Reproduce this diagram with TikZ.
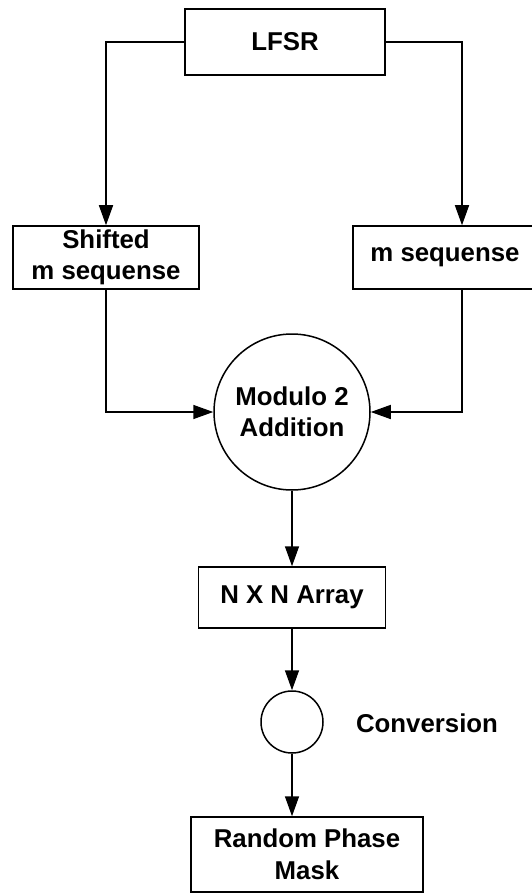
\documentclass[tikz,border=0pt]{standalone}
\usepackage{fontspec}
\setmainfont{Liberation Sans}
\usetikzlibrary{arrows.meta,calc}
\begin{document}
\begin{tikzpicture}[x=1pt,y=-1pt,
  every node/.style={font=\bfseries\fontsize{25.8}{31.5}\selectfont, align=center, inner sep=0pt},
  boxnode/.style={draw, line width=1.5pt, rectangle},
  circnode/.style={draw, line width=1.5pt, circle},
  arr/.style={line width=1.5pt, -{Triangle[length=20pt,width=14pt]}}]
\clip (0,0) rectangle (532,893);
\node[boxnode, minimum width=200pt, minimum height=66pt] (lfsr) at (285,42) {LFSR};
\node[boxnode, minimum width=186pt, minimum height=63pt] (shifted) at (106,257.5) {Shifted\\m sequense};
\node[boxnode, minimum width=184pt, minimum height=63pt] (mseq) at (445,257.5) {m sequense};
\node[circnode, minimum size=156pt] (mod) at (292,412) {Modulo 2\\Addition};
\node[boxnode, minimum width=187pt, minimum height=61pt] (nxn) at (292,597.5) {N X N Array};
\node[circnode, minimum size=62pt] (conv) at (292,722) {};
\node (convlabel) at (427,723) {Conversion};
\node[boxnode, minimum width=232pt, minimum height=75pt] (rpm) at (307,854.5) {Random Phase\\Mask};
\draw[arr] (lfsr.west) -| (shifted.north);
\draw[arr] (lfsr.east) -| ([xshift=17pt]mseq.north);
\draw[arr] (shifted.south) |- (mod.west);
\draw[arr] ([xshift=17pt]mseq.south) |- (mod.east);
\draw[arr] (mod.south) -- (mod.south |- nxn.north);
\draw[arr] (nxn.south) -- (nxn.south |- conv.north);
\draw[arr] (conv.south) -- (conv.south |- rpm.north);
\end{tikzpicture}
\end{document}
